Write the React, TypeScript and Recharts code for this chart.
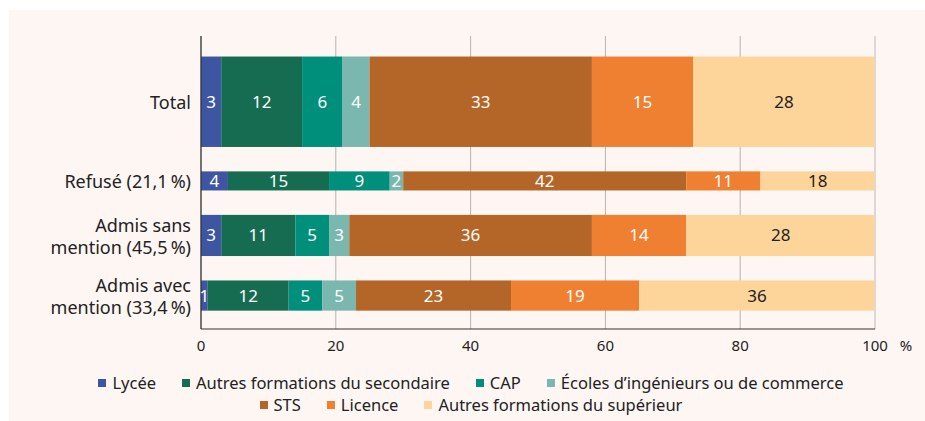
import React from 'react';
import { BarChart, Bar, XAxis, YAxis, CartesianGrid, Legend, LabelList, ReferenceLine } from 'recharts';

// categories (top to bottom) and their share of the population (bar thickness)
const categories = [['Total'], ['Refusé (21,1\u202f%)'], ['Admis sans', 'mention (45,5\u202f%)'], ['Admis avec', 'mention (33,4\u202f%)']];
const shares = [100, 21.1, 45.5, 33.4];

// series values, in %
const lycee = [3, 4, 3, 1];
const autresSecondaire = [12, 15, 11, 12];
const cap = [6, 9, 5, 5];
const ecoles = [4, 2, 3, 5];
const sts = [33, 42, 36, 23];
const licence = [15, 11, 14, 19];
const autresSuperieur = [28, 18, 28, 36];

const xTicks = [0, 20, 40, 60, 80, 100];

const SERIES = [
  { key: 'lycee', name: 'Lycée', values: lycee, color: '#3e56a2', text: '#fff' },
  { key: 'autresSecondaire', name: 'Autres formations du secondaire', values: autresSecondaire, color: '#166c50', text: '#fff' },
  { key: 'cap', name: 'CAP', values: cap, color: '#008f7b', text: '#fff' },
  { key: 'ecoles', name: 'Écoles d\u2019ingénieurs ou de commerce', values: ecoles, color: '#7ab7ae', text: '#fff' },
  { key: 'sts', name: 'STS', values: sts, color: '#b36628', text: '#fff' },
  { key: 'licence', name: 'Licence', values: licence, color: '#ef7f31', text: '#fff' },
  { key: 'autresSuperieur', name: 'Autres formations du supérieur', values: autresSuperieur, color: '#fdd49a', text: '#222' },
];

const FONT = '"Noto Sans", sans-serif';
const W = 916;
const H = 411;
const MARGIN = { top: 26, right: 50, bottom: 62, left: 0 };
const XAXIS_H = 30;
const PLOT_H = H - MARGIN.top - MARGIN.bottom - XAXIS_H;

// vertical layout in "share units": padding, bars of thickness = share, fixed gaps
const TOP_PAD = 23;
const GAP = 27;
const BOTTOM_PAD = 20;
let acc = TOP_PAD;
const positions = shares.map((s) => {
  const c = acc + s / 2;
  acc += s + GAP;
  return c;
});
const DOMAIN_MAX = acc - GAP + BOTTOM_PAD;
const PX_PER_UNIT = PLOT_H / DOMAIN_MAX;

const data = categories.map((c, i) => {
  const row: any = { pos: positions[i], share: shares[i], label: c };
  SERIES.forEach((s) => (row[s.key] = s.values[i]));
  return row;
});

const ThickBar = (props: any) => {
  const { x, y, width, height, fill, payload } = props;
  const cy = y + height / 2;
  const h = payload.share * PX_PER_UNIT;
  return <rect x={x} y={cy - h / 2} width={Math.max(0, width)} height={h} fill={fill} />;
};

const YTick = (props: any) => {
  const { x, y, payload } = props;
  const idx = positions.findIndex((p) => Math.abs(p - payload.value) < 0.01);
  const lines = idx >= 0 ? categories[idx] : [];
  const lh = 22;
  const start = y - ((lines.length - 1) * lh) / 2;
  return (
    <text x={x - 2} y={start} textAnchor="end" fill="#222" fontSize={18} fontFamily={FONT} dominantBaseline="central">
      {lines.map((l, i) => (
        <tspan key={i} x={x - 2} y={start + i * lh}>{l}</tspan>
      ))}
    </text>
  );
};

const XTick = (props: any) => {
  const { x, y, payload } = props;
  return (
    <g>
      <text x={x} y={y + 14} textAnchor="middle" fill="#222" fontSize={15} fontFamily={FONT}>{payload.value}</text>
      {payload.value === 100 && (
        <text x={x + 31} y={y + 14} textAnchor="middle" fill="#222" fontSize={15} fontFamily={FONT}>%</text>
      )}
    </g>
  );
};

const LegendContent = () => (
  <div style={{ display: 'flex', flexWrap: 'wrap', justifyContent: 'center', columnGap: 26, rowGap: 0, fontFamily: FONT, fontSize: 16.5, color: '#222', lineHeight: '22px' }}>
    {SERIES.map((s) => (
      <span key={s.key} style={{ display: 'inline-flex', alignItems: 'center', whiteSpace: 'nowrap' }}>
        <span style={{ width: 8, height: 8, background: s.color, marginRight: 6, display: 'inline-block' }} />
        {s.name}
      </span>
    ))}
  </div>
);

export default function App() {
  return (
    <div style={{ position: 'absolute', left: 0, top: 0, width: 925, height: 421, background: '#fff' }}>
      <div style={{ position: 'absolute', left: 9, top: 10, width: W, height: H, background: '#fef6f3' }}>
        <BarChart width={W} height={H} data={data} layout="vertical" margin={MARGIN} barSize={10}>
          <CartesianGrid horizontal={false} stroke="#b3b3b3" />
          <XAxis
            type="number"
            domain={[0, 100]}
            ticks={xTicks}
            allowDataOverflow
            height={XAXIS_H}
            axisLine={{ stroke: '#333', strokeWidth: 1.2 }}
            tickLine={false}
            tick={<XTick />}
          />
          <YAxis
            type="number"
            dataKey="pos"
            domain={[0, DOMAIN_MAX]}
            ticks={positions}
            interval={0}
            allowDataOverflow
            width={192}
            axisLine={{ stroke: '#333', strokeWidth: 1.2 }}
            tickLine={false}
            tick={<YTick />}
          />
          <ReferenceLine x={100} stroke="#e0dcda" />
          <Legend
            verticalAlign="middle"
            align="center"
            layout="horizontal"
            wrapperStyle={{ top: 362, left: 72, width: 780 }}
            content={<LegendContent />}
          />
          {SERIES.map((s) => (
            <Bar key={s.key} dataKey={s.key} name={s.name} stackId="a" fill={s.color} shape={<ThickBar />} isAnimationActive={false}>
              <LabelList dataKey={s.key} position="center" fill={s.text} fontSize={17} fontFamily={FONT} />
            </Bar>
          ))}
        </BarChart>
      </div>
    </div>
  );
}
